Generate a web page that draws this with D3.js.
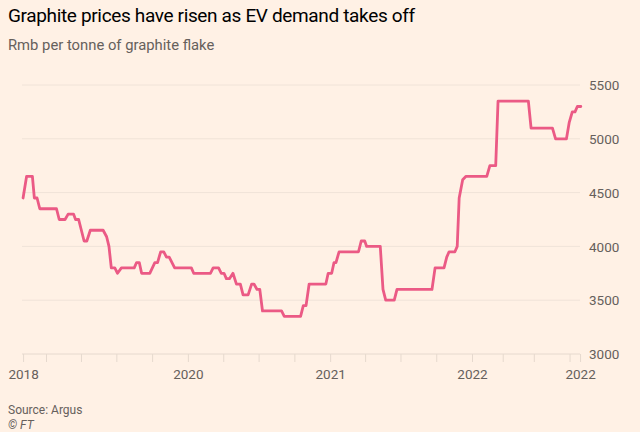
<!DOCTYPE html>
<html><head><meta charset="utf-8">
<script src="https://cdn.jsdelivr.net/npm/d3@7"></script>
<style>
html,body{margin:0;padding:0;background:#fff1e5;}
svg{display:block;}
text{font-family:Roboto, "Noto Sans", sans-serif;}
</style></head>
<body>
<svg id="c" width="640" height="432"></svg>
<script>
// ---- data ----
const dates = ["2018-11-03","2018-11-12","2018-11-27","2018-12-02","2018-12-09","2018-12-16",
"2019-01-28","2019-02-04","2019-02-19","2019-02-27","2019-03-13","2019-03-18","2019-03-26","2019-04-09","2019-04-16","2019-04-25",
"2019-05-28","2019-06-06","2019-06-12","2019-06-18","2019-06-27","2019-07-04","2019-07-14","2019-08-16","2019-08-22","2019-08-29",
"2019-09-04","2019-09-25","2019-10-08","2019-10-15","2019-10-23","2019-10-31","2019-11-07","2019-11-14","2019-11-28",
"2020-01-10","2020-01-16","2020-02-28","2020-03-06","2020-03-20","2020-03-27","2020-04-03","2020-04-09","2020-04-17","2020-04-26",
"2020-05-05","2020-05-15","2020-05-22","2020-06-04","2020-06-13","2020-06-19","2020-06-27","2020-07-04","2020-07-11","2020-08-29",
"2020-09-05","2020-10-17","2020-10-24","2020-10-31","2020-11-08","2020-12-21","2020-12-27",
"2021-01-05","2021-01-11","2021-01-16","2021-01-24","2021-03-15","2021-03-22","2021-03-31","2021-04-05","2021-05-10","2021-05-17",
"2021-05-24","2021-06-15","2021-06-22","2021-09-20","2021-09-28","2021-10-21","2021-10-28","2021-11-03","2021-11-18","2021-11-24",
"2021-11-29","2021-12-08","2021-12-16",
"2022-02-08","2022-02-16","2022-03-03","2022-03-09","2022-05-26","2022-06-02","2022-07-27","2022-08-04","2022-09-01","2022-09-08",
"2022-09-16","2022-09-23","2022-09-29","2022-10-08"];
const prices = [4450,4650,4650,4450,4450,4350,
4350,4250,4250,4300,4300,4250,4250,4050,4050,4150,
4150,4090,4000,3800,3800,3750,3800,3800,3850,3850,
3750,3750,3850,3850,3950,3950,3900,3900,3800,
3800,3750,3750,3800,3800,3750,3750,3700,3700,3750,
3650,3650,3550,3550,3650,3650,3600,3600,3400,3400,
3350,3350,3450,3450,3650,3650,3750,
3750,3850,3850,3950,3950,4050,4050,4000,4000,3600,
3500,3500,3600,3600,3800,3800,3900,3950,3950,4000,
4450,4620,4650,
4650,4750,4750,5350,5350,5100,5100,5000,5000,5150,
5250,5250,5300,5300];
const yTicks = [3000,3500,4000,4500,5000,5500];
const xTickDates = ["2018-11-03","2019-01-01","2019-04-01","2019-07-01","2019-10-01","2020-01-01","2020-04-01","2020-07-01","2020-10-01",
"2021-01-01","2021-04-01","2021-07-01","2021-10-01","2022-01-01","2022-03-21","2022-06-09","2022-09-09","2022-10-06"];
const xTickLabels = {"2018-11-03":"2018","2020-01-01":"2020","2021-01-01":"2021","2022-01-01":"2022","2022-10-06":"2022"};
const title = "Graphite prices have risen as EV demand takes off";
const subtitle = "Rmb per tonne of graphite flake";
const source = "Source: Argus";
const credit = "© FT";

// ---- drawing ----
const parse = d3.utcParse("%Y-%m-%d");
const data = dates.map((d,i)=>({date:parse(d), value:prices[i]}));
const svg = d3.select("#c");
const W=640,H=432;
svg.append("rect").attr("width",W).attr("height",H).attr("fill","#fff1e5");

const plotL=22, plotR=580;
const x = d3.scaleUtc().domain([parse("2019-01-01"),parse("2022-01-01")]).range([46,472]);
const y = d3.scaleLinear().domain([3000,5500]).range([354,85]);

// gridlines
svg.append("g").selectAll("line").data(yTicks.slice(1)).join("line")
  .attr("x1",plotL).attr("x2",plotR)
  .attr("y1",d=>y(d)).attr("y2",d=>y(d))
  .attr("stroke","#f0e3d8").attr("stroke-width",1);

// y axis (labels on right)
const yAxis = d3.axisRight(y).tickValues(yTicks).tickSize(0).tickPadding(0).tickFormat(d3.format("d"));
const gy = svg.append("g").attr("transform",`translate(589,0)`).call(yAxis);
gy.select(".domain").remove();
gy.selectAll("text").attr("fill","#66605c").style("font-size","13.5px").attr("x",0).attr("dy","0.35em");

// x axis
const xAxis = d3.axisBottom(x).tickValues(xTickDates.map(parse)).tickSize(8).tickSizeOuter(0)
  .tickFormat(d=>xTickLabels[d3.utcFormat("%Y-%m-%d")(d)]||"");
const gx = svg.append("g").attr("transform",`translate(0,${y(3000)})`).call(xAxis);
gx.select(".domain").remove();
gx.selectAll(".tick line").attr("stroke","#e6d9ce");
gx.selectAll("text").attr("fill","#66605c").style("font-size","13.5px").attr("dy","0").attr("y",25);
svg.append("line").attr("x1",plotL).attr("x2",plotR).attr("y1",y(3000)).attr("y2",y(3000))
  .attr("stroke","#e6d9ce").attr("stroke-width",1);

// line
const line = d3.line().x(d=>x(d.date)).y(d=>y(d.value));
svg.append("path").datum(data).attr("d",line)
  .attr("fill","none").attr("stroke","#eb5a85").attr("stroke-width",2.8)
  .attr("stroke-linejoin","round").attr("stroke-linecap","round");

// titles
svg.append("text").attr("x",8).attr("y",22).text(title)
  .attr("fill","#000").style("font-size","19px").style("letter-spacing","-0.35px");
svg.append("text").attr("x",8).attr("y",50).text(subtitle)
  .attr("fill","#66605c").style("font-size","14.8px");
svg.append("text").attr("x",8).attr("y",414).text(source)
  .attr("fill","#66605c").style("font-size","12px");
svg.append("text").attr("x",8).attr("y",429).text(credit)
  .attr("fill","#66605c").style("font-size","12px").style("font-style","italic");
</script>
</body></html>
